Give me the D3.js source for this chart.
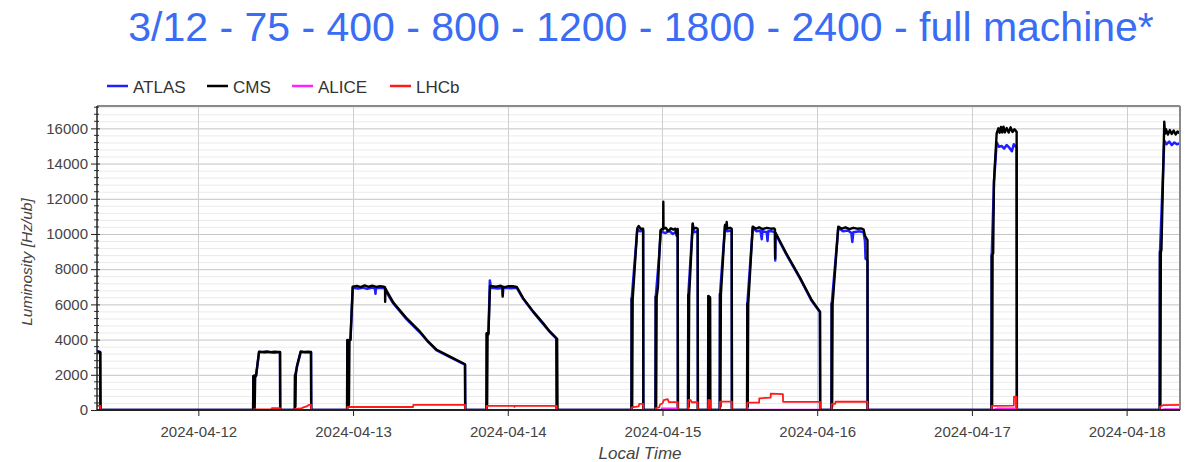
<!DOCTYPE html>
<html>
<head>
<meta charset="utf-8">
<script src="https://cdn.jsdelivr.net/npm/d3@7"></script>
<style>
  html, body { margin: 0; padding: 0; background: #fff; }
  svg { display: block; font-family: "Liberation Sans", Arial, Helvetica, sans-serif; }
</style>
</head>
<body>
<svg id="chart" width="1191" height="462"></svg>
<script>
// Instantaneous luminosity per experiment, [hours since 2024-04-11 00:00, Hz/ub]
const atlas = [
  [8.28, 3350], [8.78, 3300], [8.82, 0],
  [32.50, 0], [32.53, 1900], [32.95, 1920], [33.42, 3290], [34.3, 3270], [35.0, 3300], [35.7, 3250], [36.67, 3280], [36.70, 0],
  [38.97, 0], [39.00, 1950], [39.30, 2450], [39.88, 3300], [40.6, 3260], [41.48, 3280], [41.51, 0],
  [47.08, 0], [47.11, 3950], [47.60, 3980], [47.95, 6950], [48.8, 6900], [49.5, 6950], [50.2, 6880], [51.0, 6960], [51.4, 6900], [51.48, 6600], [51.55, 6920], [52.4, 6950], [52.96, 6900], [53.0, 6800], [54.25, 6050], [56.33, 5150], [58.39, 4400], [59.68, 3850], [60.98, 3380], [63.04, 3000], [65.37, 2580], [65.40, 0],
  [68.70, 0], [68.73, 4330], [69.0, 4300], [69.22, 7350], [69.40, 6950], [70.5, 6900], [71.18, 6950], [71.22, 6500], [71.3, 6950], [72.5, 6920], [73.39, 6950], [74.41, 6300], [75.96, 5550], [77.51, 4880], [78.55, 4420], [79.55, 4050], [79.60, 0],
  [91.19, 0], [91.22, 6300], [92.09, 10250], [92.5, 10150], [93.0, 10200], [93.03, 0],
  [94.92, 0], [94.95, 6400], [95.51, 8850], [95.72, 10150], [96.5, 10050], [97.0, 10200], [97.6, 10000], [98.0, 10100], [98.36, 10150], [98.39, 0],
  [99.97, 0], [100.00, 6500], [100.69, 10550], [100.9, 10100], [101.46, 10150], [101.49, 0],
  [103.08, 0], [103.11, 6450], [103.37, 6350], [103.40, 0],
  [104.89, 0], [104.92, 6550], [105.70, 10450], [106.0, 10150], [106.74, 10200], [106.77, 0],
  [109.13, 0], [109.16, 6000], [110.0, 10350], [110.6, 10150], [111.2, 10200], [111.40, 9700], [111.5, 10150], [112.17, 10100], [112.3, 9600], [112.4, 10150], [113.0, 10150], [113.45, 10100], [113.50, 8500], [113.55, 10000], [115.27, 8800], [117.33, 7480], [119.14, 6200], [120.43, 5550], [120.46, 0],
  [122.22, 0], [122.25, 6000], [123.27, 10350], [124.0, 10150], [124.8, 10200], [125.3, 10050], [125.45, 9550], [125.6, 10100], [126.5, 10150], [127.2, 10100], [127.41, 9600], [127.50, 8600], [127.80, 8500], [127.83, 0],
  [147.04, 0], [147.07, 8700], [147.42, 12900], [147.84, 15200], [148.2, 14950], [148.6, 15000], [149.0, 14850], [149.4, 15050], [149.8, 14900], [150.2, 14700], [150.5, 15100], [150.94, 14900], [150.97, 0],
  [173.14, 0], [173.17, 8900], [173.84, 15300], [174.2, 15100], [174.6, 15250], [175.0, 15050], [175.4, 15200], [175.8, 15100], [176.28, 15150]
];

const cms = [
  [8.28, 3300], [8.60, 3310], [8.78, 3280], [8.82, 0],
  [32.50, 0], [32.53, 1930], [32.60, 150], [32.66, 1960], [32.74, 100], [32.82, 1940], [32.95, 1950], [33.42, 3310], [34.0, 3300], [34.6, 3320], [35.2, 3290], [35.8, 3310], [36.4, 3300], [36.67, 3300], [36.70, 0],
  [38.97, 0], [39.00, 1990], [39.06, 200], [39.12, 2000], [39.30, 2500], [39.88, 3320], [40.4, 3300], [41.0, 3310], [41.48, 3300], [41.51, 0],
  [47.08, 0], [47.11, 3980], [47.20, 200], [47.28, 3960], [47.36, 300], [47.45, 3990], [47.60, 4000], [47.95, 7010], [48.6, 7050], [49.2, 6980], [49.8, 7080], [50.4, 7000], [51.0, 7060], [51.6, 6990], [52.2, 7040], [52.8, 7000], [52.96, 6980], [52.98, 6150], [53.02, 6900], [54.25, 6100], [56.33, 5200], [58.39, 4450], [59.68, 3880], [60.98, 3420], [63.04, 3030], [65.37, 2600], [65.40, 0],
  [68.70, 0], [68.73, 4360], [68.80, 300], [68.87, 4300], [69.0, 4350], [69.25, 7050], [70.2, 7000], [70.9, 7060], [71.18, 7000], [71.22, 6440], [71.26, 7000], [71.6, 6980], [72.1, 7040], [72.8, 7030], [73.39, 6990], [74.41, 6340], [75.96, 5590], [77.51, 4920], [78.55, 4450], [79.50, 4100], [79.55, 4070], [79.60, 100], [79.66, 4050], [79.72, 0],
  [91.19, 0], [91.22, 6340], [91.30, 200], [91.38, 6300], [92.09, 10320], [92.3, 10450], [92.6, 10300], [93.0, 10300], [93.03, 0],
  [94.92, 0], [94.95, 6440], [95.02, 200], [95.10, 6400], [95.30, 7000], [95.51, 8900], [95.72, 10230], [96.0, 10300], [96.10, 10250], [96.13, 11830], [96.16, 10300], [96.5, 10350], [96.9, 10150], [97.3, 10320], [97.7, 10250], [98.0, 10300], [98.20, 9900], [98.36, 10280], [98.39, 0],
  [99.97, 0], [100.00, 6530], [100.07, 200], [100.14, 6500], [100.69, 10600], [100.80, 10300], [101.2, 10350], [101.46, 10300], [101.49, 0],
  [103.08, 0], [103.11, 6480], [103.25, 6450], [103.37, 6400], [103.40, 0],
  [104.89, 0], [104.92, 6590], [104.99, 200], [105.06, 6550], [105.70, 10510], [105.85, 10300], [105.96, 10680], [106.05, 10300], [106.5, 10350], [106.74, 10300], [106.77, 0],
  [109.13, 0], [109.16, 6060], [109.23, 200], [109.30, 6000], [110.0, 10420], [110.5, 10300], [111.0, 10380], [111.5, 10280], [112.17, 10350], [112.8, 10300], [113.30, 10320], [113.45, 10250], [113.47, 8620], [113.50, 10100], [115.27, 8850], [117.33, 7520], [119.14, 6250], [120.43, 5590], [120.46, 0],
  [122.22, 0], [122.25, 6060], [122.32, 200], [122.39, 6000], [123.27, 10420], [123.8, 10300], [124.4, 10380], [125.0, 10280], [125.6, 10350], [126.2, 10300], [126.8, 10320], [127.2, 10250], [127.41, 9900], [127.80, 9650], [127.83, 0],
  [147.04, 0], [147.07, 8800], [147.14, 300], [147.21, 8850], [147.30, 8900], [147.42, 12970], [147.84, 15720], [148.1, 16000], [148.3, 15750], [148.5, 16080], [148.7, 15760], [148.9, 16100], [149.1, 15770], [149.4, 16020], [149.7, 15760], [150.0, 16060], [150.3, 15790], [150.6, 15950], [150.94, 15800], [150.97, 0],
  [173.14, 0], [173.17, 8990], [173.24, 300], [173.31, 8950], [173.40, 9100], [173.84, 16380], [173.95, 15700], [174.1, 15950], [174.4, 15650], [174.7, 15900], [175.0, 15680], [175.3, 15880], [175.6, 15650], [175.9, 15820], [176.28, 15700]
];

const alice = [
  [8.28, 0], [95.80, 0], [95.85, 90], [98.30, 100], [98.36, 0],
  [109.16, 0], [109.20, 30], [120.40, 30], [120.46, 0],
  [147.07, 0], [147.90, 90], [150.90, 100], [150.94, 0],
  [173.17, 0], [173.90, 60], [176.28, 60]
];

const lhcb = [
  [8.28, 250], [8.78, 230], [8.82, 0],
  [32.50, 0], [32.53, 30], [35.30, 40], [35.40, 100], [36.67, 110], [36.70, 0],
  [38.97, 0], [39.00, 60], [40.0, 90], [40.3, 150], [40.8, 200], [41.1, 280], [41.48, 300], [41.51, 0],
  [47.08, 0], [47.11, 170], [57.30, 170], [57.35, 290], [65.37, 290], [65.40, 0],
  [68.70, 0], [68.73, 230], [73.0, 230], [73.05, 180], [73.1, 230], [79.59, 230], [79.62, 0],
  [91.19, 0], [91.22, 150], [92.3, 200], [92.4, 350], [93.00, 350], [93.03, 0],
  [94.92, 0], [94.95, 100], [95.5, 150], [95.6, 300], [96.0, 380], [96.2, 560], [96.8, 620], [97.0, 450], [98.36, 450], [98.39, 0],
  [99.97, 0], [100.0, 570], [100.4, 560], [100.5, 440], [101.46, 440], [101.49, 0],
  [103.08, 0], [103.11, 570], [103.37, 560], [103.40, 0],
  [104.89, 0], [104.92, 480], [106.74, 480], [106.77, 0],
  [109.13, 0], [109.16, 420], [110.99, 420], [111.02, 660], [112.77, 700], [112.80, 930], [114.68, 900], [114.71, 470], [120.43, 460], [120.46, 0],
  [122.22, 0], [122.25, 350], [122.8, 350], [122.85, 470], [127.80, 470], [127.83, 0],
  [147.04, 0], [147.07, 230], [150.50, 250], [150.53, 760], [150.94, 760], [150.97, 0],
  [173.14, 0], [173.17, 200], [173.7, 280], [176.28, 290]
];

const seriesNames = ["ATLAS", "CMS", "ALICE", "LHCb"];
const seriesColors = ["#1f1fff", "#000000", "#ff22ff", "#ff1a1a"];
const seriesData = [atlas, cms, alice, lhcb];
const seriesWidths = [2.5, 2.4, 1.6, 1.8];

const yMajorTicks = [0, 2000, 4000, 6000, 8000, 10000, 12000, 14000, 16000];
const titleText = "3/12 - 75 - 400 - 800 - 1200 - 1800 - 2400 - full machine*";

// Axis window: one week of local time
const origin = new Date(2024, 3, 11, 0, 0, 0);
const windowStartH = 8.28, windowEndH = 176.28;
const yMax = 17270;

const toDate = h => new Date(origin.getTime() + h * 3600 * 1000);

const svg = d3.select("#chart");
const W = 1191, H = 462;
const plot = { left: 97, right: 1180, top: 106, bottom: 410 };

svg.append("rect").attr("width", W).attr("height", H).attr("fill", "#fff");

const x = d3.scaleTime()
  .domain([toDate(windowStartH), toDate(windowEndH)])
  .range([plot.left, plot.right]);
const y = d3.scaleLinear()
  .domain([0, yMax])
  .range([plot.bottom, plot.top]);

// Title
svg.append("text")
  .attr("x", 641).attr("y", 41)
  .attr("text-anchor", "middle")
  .attr("font-size", 41)
  .attr("fill", "#3a6cf4")
  .text(titleText);

// Legend
const legendX = [107, 207, 292, 390];
const legend = svg.append("g");
seriesNames.forEach((name, i) => {
  const g = legend.append("g").attr("transform", `translate(${legendX[i]},86)`);
  g.append("line").attr("x1", 0).attr("x2", 21).attr("y1", 0).attr("y2", 0)
    .attr("stroke", seriesColors[i]).attr("stroke-width", 2.5);
  g.append("text").attr("x", 26).attr("y", 6.5)
    .attr("font-size", 17).attr("fill", "#333").text(name);
});

// Grid
const grid = svg.append("g");
const minorVals = d3.range(0, yMax, 400).filter(v => v % 2000 !== 0);
grid.selectAll(".minor").data(minorVals).join("line")
  .attr("x1", plot.left).attr("x2", plot.right)
  .attr("y1", d => y(d) + 0.5).attr("y2", d => y(d) + 0.5)
  .attr("stroke", "#ebebeb").attr("stroke-width", 1);
grid.selectAll(".major").data(yMajorTicks.slice(1)).join("line")
  .attr("x1", plot.left).attr("x2", plot.right)
  .attr("y1", d => y(d) + 0.5).attr("y2", d => y(d) + 0.5)
  .attr("stroke", "#c4c4c4").attr("stroke-width", 1);
const dayTicks = x.ticks(d3.timeDay.every(1));
grid.selectAll(".vday").data(dayTicks).join("line")
  .attr("x1", d => Math.round(x(d)) + 0.5).attr("x2", d => Math.round(x(d)) + 0.5)
  .attr("y1", plot.top).attr("y2", plot.bottom)
  .attr("stroke", "#cfcfcf").attr("stroke-width", 1);

// Series
svg.append("clipPath").attr("id", "plotClip")
  .append("rect").attr("x", plot.left).attr("y", plot.top - 2)
  .attr("width", plot.right - plot.left).attr("height", plot.bottom - plot.top + 2);

const line = d3.line()
  .x(d => x(toDate(d[0])))
  .y(d => y(d[1]));

const lines = svg.append("g").attr("clip-path", "url(#plotClip)");
seriesData.forEach((data, i) => {
  lines.append("path")
    .attr("d", line(data))
    .attr("fill", "none")
    .attr("stroke", seriesColors[i])
    .attr("stroke-width", seriesWidths[i])
    .attr("stroke-linejoin", "round");
});

// Frame: gray top/right, dark axes left/bottom
svg.append("line").attr("x1", plot.left).attr("x2", plot.right).attr("y1", plot.top).attr("y2", plot.top)
  .attr("stroke", "#8a8a8a").attr("stroke-width", 2);
svg.append("line").attr("x1", plot.right).attr("x2", plot.right).attr("y1", plot.top).attr("y2", plot.bottom)
  .attr("stroke", "#8a8a8a").attr("stroke-width", 2);

// Y axis
const yAxis = d3.axisLeft(y).tickValues(yMajorTicks).tickSize(6).tickPadding(3).tickFormat(d3.format("d"));
const yg = svg.append("g").attr("transform", `translate(${plot.left},0)`).call(yAxis);
yg.select(".domain").remove();
yg.selectAll(".tick line").attr("stroke", "#222").attr("x2", -6).attr("x1", 3);
yg.selectAll(".tick text").attr("font-size", 15).attr("fill", "#444")
  .attr("font-family", "'Liberation Sans', Arial, sans-serif");
svg.append("g").selectAll("line").data(minorVals).join("line")
  .attr("x1", plot.left - 3).attr("x2", plot.left + 2)
  .attr("y1", d => y(d)).attr("y2", d => y(d))
  .attr("stroke", "#333").attr("stroke-width", 1);
svg.append("line").attr("x1", plot.left).attr("x2", plot.left).attr("y1", plot.top).attr("y2", plot.bottom)
  .attr("stroke", "#222").attr("stroke-width", 1.5);

// X axis
const xAxis = d3.axisBottom(x).ticks(d3.timeDay.every(1)).tickFormat(d3.timeFormat("%Y-%m-%d")).tickSize(6).tickPadding(10);
const xg = svg.append("g").attr("transform", `translate(0,${plot.bottom})`).call(xAxis);
xg.select(".domain").remove();
xg.selectAll(".tick line").attr("stroke", "#222");
xg.selectAll(".tick text").attr("font-size", 15).attr("fill", "#444")
  .attr("font-family", "'Liberation Sans', Arial, sans-serif");
svg.append("line").attr("x1", plot.left).attr("x2", plot.right).attr("y1", plot.bottom).attr("y2", plot.bottom)
  .attr("stroke", "#222").attr("stroke-width", 2);

// Axis titles
svg.append("text")
  .attr("transform", "translate(32,262) rotate(-90)")
  .attr("text-anchor", "middle")
  .attr("font-size", 15.5).attr("font-style", "italic").attr("fill", "#444")
  .text("Luminosity [Hz/ub]");
svg.append("text")
  .attr("x", 640).attr("y", 459)
  .attr("text-anchor", "middle")
  .attr("font-size", 17).attr("font-style", "italic").attr("fill", "#444")
  .text("Local Time");
</script>
</body>
</html>
